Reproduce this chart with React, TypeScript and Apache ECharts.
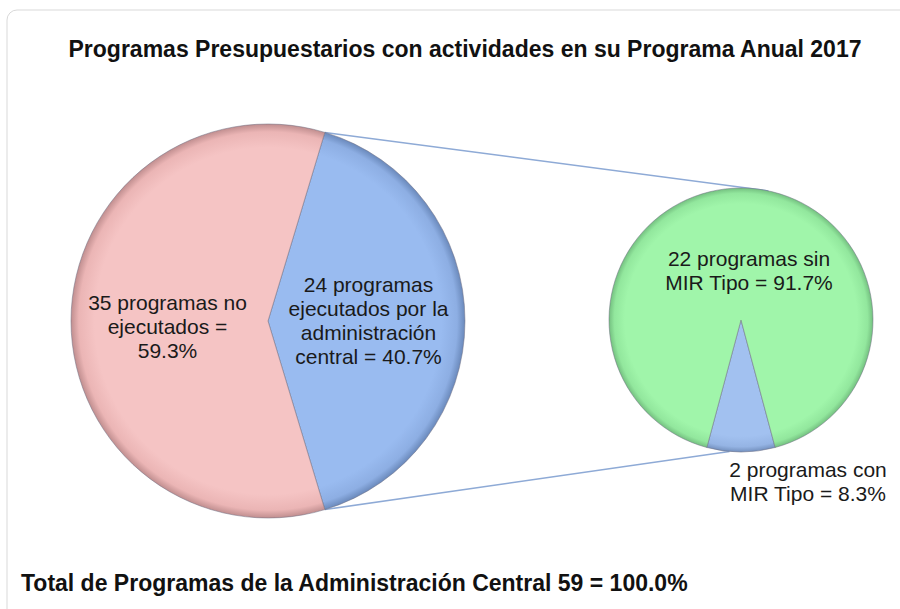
import React, { useEffect, useRef } from "react";
import * as echarts from "echarts";

// ---- Data ----
const titleText = "Programas Presupuestarios con actividades en su Programa Anual 2017";
const footerText = "Total de Programas de la Administración Central 59 = 100.0%";

const mainNames = ["Ejecutados por la administración central", "No ejecutados"];
const mainValues = [24, 35];
const mainLabels = [
  "24 programas\nejecutados por la\nadministración\ncentral = 40.7%",
  "35 programas no\nejecutados =\n59.3%",
];

const subNames = ["Con MIR Tipo", "Sin MIR Tipo"];
const subValues = [2, 22];
const subLabels = ["2 programas con\nMIR Tipo = 8.3%", "22 programas sin\nMIR Tipo = 91.7%"];

// ---- Layout constants ----
const FONT = "'Liberation Sans', Arial, sans-serif";
const L = { cx: 268, cy: 321, r: 197 };
const R = { cx: 741, cy: 320, r: 132, start: -75 };

function grad(cx: number, cy: number, r: number, base: string, mid: string, edge: string) {
  return new echarts.graphic.RadialGradient(
    cx,
    cy,
    r,
    [
      { offset: 0, color: base },
      { offset: 0.88, color: base },
      { offset: 0.96, color: mid },
      { offset: 1, color: edge },
    ],
    true
  );
}

function pt(cx: number, cy: number, r: number, deg: number) {
  const a = (deg * Math.PI) / 180;
  return [cx + r * Math.cos(a), cy - r * Math.sin(a)];
}

export default function App() {
  const ref = useRef<HTMLDivElement>(null);

  useEffect(() => {
    if (!ref.current) return;
    const chart = echarts.init(ref.current, undefined, { renderer: "svg" });

    const blueL = grad(L.cx, L.cy, L.r, "#99bbf0", "#8daee3", "#6a89bb");
    const pinkL = grad(L.cx, L.cy, L.r, "#f5c4c4", "#ebb5b5", "#c08e8f");
    const blueR = grad(R.cx, R.cy, R.r, "#a2c1f0", "#95b4e4", "#7390be");
    const greenR = grad(R.cx, R.cy, R.r, "#a0f5aa", "#92e79d", "#74c080");

    const mainColors = [blueL, pinkL];
    const subColors = [blueR, greenR];

    // main pie: first slice centred on the right-hand side
    const halfMain = (mainValues[0] / (mainValues[0] + mainValues[1])) * 180;

    // connector lines, computed from pie geometry
    const lTop = pt(L.cx, L.cy, L.r, halfMain);
    const lBot = pt(L.cx, L.cy, L.r, -halfMain);
    const rTop = pt(R.cx, R.cy, R.r, 78);
    const rBot = pt(R.cx, R.cy, R.r, -95);

    const mainShift: [number, number][] = [
      [-1, -1],
      [1, 5],
    ];
    const subShift: [number, number][] = [
      [67, 92],
      [8, 19],
    ];

    const labelStyle = {
      show: true,
      position: "inside",
      fontSize: 21,
      lineHeight: 24,
      color: "#1a1a1a",
      fontFamily: FONT,
      align: "center",
    };

    chart.setOption({
      animation: false,
      backgroundColor: "#ffffff",
      title: [
        {
          text: titleText,
          left: 460,
          top: 32,
          textAlign: "center",
          textStyle: { fontSize: 23, fontWeight: "bold", color: "#111", fontFamily: FONT },
        },
        {
          text: footerText,
          left: 16,
          top: 566,
          textStyle: { fontSize: 23, fontWeight: "bold", color: "#111", fontFamily: FONT },
        },
      ],
      graphic: [
        {
          type: "rect",
          z: -10,
          shape: { x: 7, y: 10, width: 920, height: 640, r: 10 },
          style: { fill: "none", stroke: "#d9d9d9", lineWidth: 1 },
          silent: true,
        },
        {
          type: "line",
          shape: { x1: lTop[0], y1: lTop[1], x2: rTop[0], y2: rTop[1] },
          style: { stroke: "#8eaad6", lineWidth: 1.5 },
          silent: true,
        },
        {
          type: "line",
          shape: { x1: lBot[0], y1: lBot[1], x2: rBot[0], y2: rBot[1] },
          style: { stroke: "#8eaad6", lineWidth: 1.5 },
          silent: true,
        },
      ],
      series: [
        {
          type: "pie",
          center: [L.cx, L.cy],
          radius: L.r,
          startAngle: halfMain,
          clockwise: true,
          emphasis: { disabled: true },
          label: labelStyle,
          labelLine: { show: false },
          itemStyle: { borderColor: "rgba(110,110,130,0.5)", borderWidth: 1 },
          labelLayout: (params: any) => {
            const s = mainShift[params.dataIndex] || [0, 0];
            return { dx: s[0], dy: s[1] };
          },
          data: mainValues.map((v, i) => ({
            value: v,
            name: mainNames[i],
            itemStyle: { color: mainColors[i] },
            label: { formatter: mainLabels[i] },
          })),
        },
        {
          type: "pie",
          center: [R.cx, R.cy],
          radius: R.r,
          startAngle: R.start,
          clockwise: true,
          emphasis: { disabled: true },
          label: labelStyle,
          labelLine: { show: false },
          itemStyle: { borderColor: "rgba(110,110,130,0.5)", borderWidth: 1 },
          labelLayout: (params: any) => {
            const s = subShift[params.dataIndex] || [0, 0];
            return { dx: s[0], dy: s[1] };
          },
          data: subValues.map((v, i) => ({
            value: v,
            name: subNames[i],
            itemStyle: { color: subColors[i] },
            label: { formatter: subLabels[i] },
          })),
        },
      ],
    });

    return () => chart.dispose();
  }, []);

  return (
    <div
      ref={ref}
      style={{ position: "absolute", left: 0, top: 0, width: 900, height: 609 }}
    />
  );
}
